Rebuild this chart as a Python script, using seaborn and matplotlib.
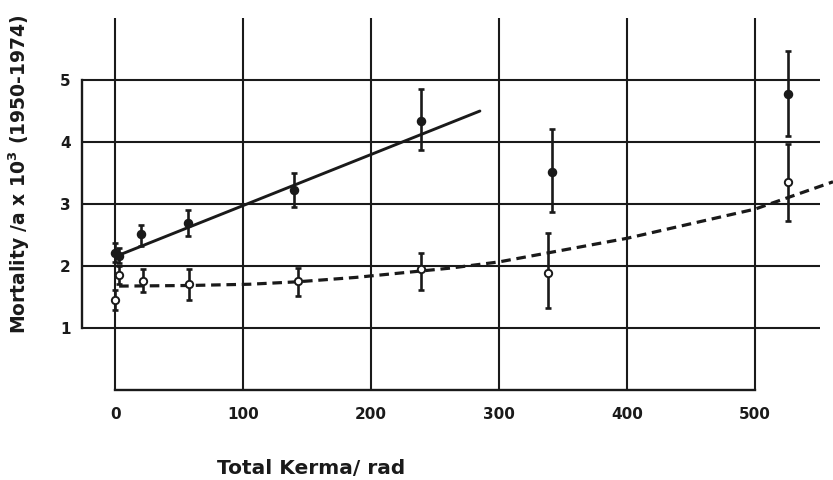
import numpy as np
import pandas as pd
import matplotlib
matplotlib.use("Agg")
import matplotlib.pyplot as plt
import seaborn as sns

# values
filled_x = [0, 3, 20, 57, 140, 239, 341, 526]
filled_y = [2.22, 2.17, 2.52, 2.70, 3.23, 4.34, 3.52, 4.77]
filled_lo = [2.07, 2.06, 2.33, 2.49, 2.96, 3.87, 2.88, 4.09]
filled_hi = [2.37, 2.30, 2.66, 2.90, 3.50, 4.85, 4.21, 5.46]

open_x = [0, 3, 22, 58, 143, 239, 338, 526]
open_y = [1.46, 1.86, 1.77, 1.72, 1.76, 1.95, 1.89, 3.35]
open_lo = [1.30, 1.72, 1.58, 1.45, 1.52, 1.62, 1.32, 2.73]
open_hi = [1.61, 2.00, 1.95, 1.96, 1.97, 2.21, 2.53, 3.97]

# fitted lines
lin_x = [3, 285]
lin_y = [2.18, 4.50]
curve_x = [3, 58, 105, 143, 188, 262, 300, 400, 500, 561]
curve_y = [1.68, 1.69, 1.71, 1.75, 1.82, 1.97, 2.07, 2.45, 2.92, 3.36]

x_ticks = [0, 100, 200, 300, 400, 500]
y_ticks = [1, 2, 3, 4, 5]

ink = "#1a1a1a"

sns.set_style("white")
plt.rcParams['font.family'] = ['DejaVu Sans']
plt.rcParams['font.weight'] = 'bold'

fig = plt.figure(figsize=(8.33, 4.8), dpi=100)
ax = fig.add_axes([82 / 833, 1 - 390.4 / 480, 751 / 833, 372.5 / 480])
ax.set_xlim(-26, 561)
ax.set_ylim(0, 6)

# hand-drawn style grid
ax.hlines(y_ticks, -26, 551, color=ink, lw=1.5, zorder=1)
ax.vlines(x_ticks, 0, 6, color=ink, lw=1.5, zorder=1)

# error bars
ax.errorbar(filled_x, filled_y,
            yerr=[np.subtract(filled_y, filled_lo), np.subtract(filled_hi, filled_y)],
            fmt='none', ecolor=ink, elinewidth=1.9, capsize=2.5, capthick=1.9, zorder=3)
ax.errorbar(open_x, open_y,
            yerr=[np.subtract(open_y, open_lo), np.subtract(open_hi, open_y)],
            fmt='none', ecolor=ink, elinewidth=1.9, capsize=2.5, capthick=1.9, zorder=3)

# fit lines
sns.lineplot(x=lin_x, y=lin_y, ax=ax, color=ink, lw=2.1, zorder=2)
sns.lineplot(x=curve_x, y=curve_y, ax=ax, color=ink, lw=2.3,
             linestyle=(0, (3, 1.8)), zorder=2)

# points
sns.scatterplot(x=filled_x, y=filled_y, ax=ax, color=ink, s=34,
                edgecolor=ink, linewidth=1.0, zorder=4)
sns.scatterplot(x=open_x, y=open_y, ax=ax, color="white", s=28,
                edgecolor=ink, linewidth=1.4, zorder=4)

# axes
for side in ["top", "right"]:
    ax.spines[side].set_visible(False)
ax.spines["left"].set_bounds(1, 5)
ax.spines["bottom"].set_bounds(0, 500)
for side in ["left", "bottom"]:
    ax.spines[side].set_color(ink)
    ax.spines[side].set_linewidth(1.7)

ax.set_xticks(x_ticks)
ax.set_yticks(y_ticks)
ax.set_xticklabels([str(t) for t in x_ticks], fontsize=11, fontweight='bold', color=ink)
ax.set_yticklabels([str(t) for t in y_ticks], fontsize=11, fontweight='bold', color=ink)
ax.tick_params(axis='y', length=5, width=1.5, color=ink, pad=3)
ax.tick_params(axis='x', length=4, width=1.5, color=ink, pad=8)

fig.text(311 / 833, 1 - 468 / 480, "Total Kerma/ rad", ha='center', va='center',
         fontsize=14.5, fontweight='heavy', color=ink)
fig.text(19 / 833, 1 - 174 / 480, "Mortality /a x 10$^{\\mathbf{3}}$ (1950-1974)",
         ha='center', va='center', rotation=90, fontsize=13.5, fontweight='heavy', color=ink)

fig.savefig("out.png", dpi=100)
